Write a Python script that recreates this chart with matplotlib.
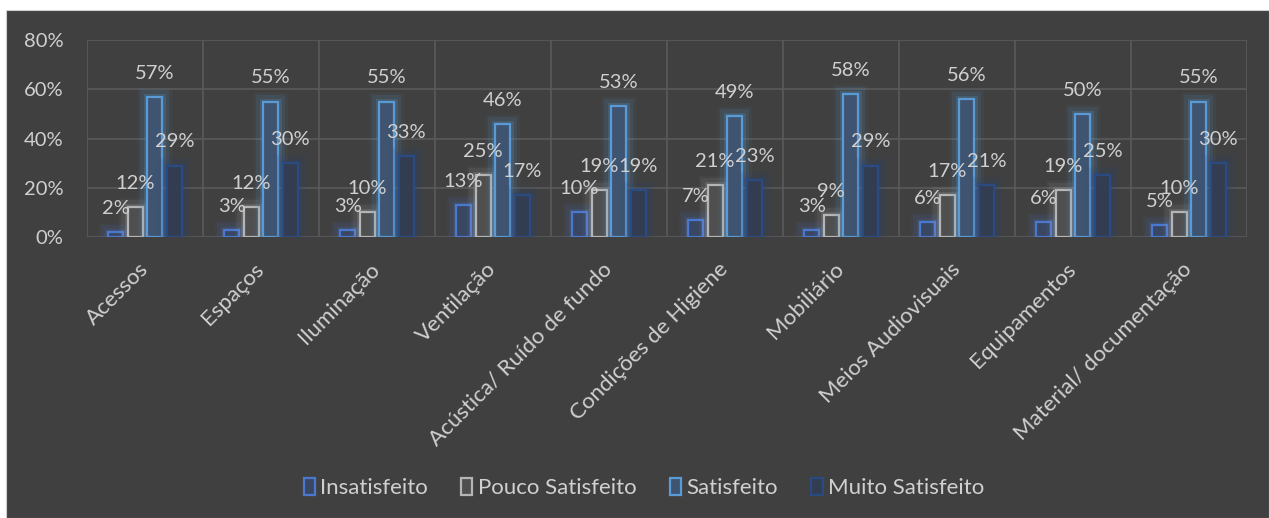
import matplotlib
matplotlib.use('Agg')
import matplotlib.pyplot as plt
import numpy as np
from matplotlib.patches import Rectangle, Patch
import matplotlib.patheffects as pe

categories = ['Acessos', 'Espaços', 'Iluminação', 'Ventilação', 'Acústica/ Ruído de fundo',
              'Condições de Higiene', 'Mobiliário', 'Meios Audiovisuais', 'Equipamentos',
              'Material/ documentação']
insatisfeito = [2, 3, 3, 13, 10, 7, 3, 6, 6, 5]
pouco_satisfeito = [12, 12, 10, 25, 19, 21, 9, 17, 19, 10]
satisfeito = [57, 55, 55, 46, 53, 49, 58, 56, 50, 55]
muito_satisfeito = [29, 30, 33, 17, 19, 23, 29, 21, 25, 30]
series_names = ['Insatisfeito', 'Pouco Satisfeito', 'Satisfeito', 'Muito Satisfeito']
yticks = [0, 20, 40, 60, 80]

edge_colors = ['#4a78d0', '#b5b5b5', '#5B9BD5', '#2a4a82']
face_colors = ['#3a4763', '#4f4f4f', '#3f5470', '#333d52']
glow_colors = ['#4472C4', '#A5A5A5', '#5B9BD5', '#264478']

plt.rcParams['font.family'] = ['Lato', 'DejaVu Sans']
txt_color = '#d0d0d0'
fs = 14.5
fs_x = 16
fs_leg = 16

W, H = 1269, 518
fig = plt.figure(figsize=(W / 100, H / 100), dpi=100)
fig.patch.set_facecolor('white')
fig.patches.append(Rectangle((6 / W, 0), 1 - 6 / W, (H - 10) / H, transform=fig.transFigure,
                             facecolor='#404040', edgecolor='#d0d0d0', lw=0.8, zorder=-10))

ax = fig.add_axes([87 / W, 1 - 237 / H, 1160 / W, 197 / H])
ax.set_facecolor('none')
ax.set_xlim(0, len(categories))
ax.set_ylim(0, 80)

for s in ax.spines.values():
    s.set_visible(False)

grid_c = '#5a5a5a'
for yv in yticks:
    ax.axhline(yv, color=grid_c, lw=1.2, zorder=1)
for xv in range(len(categories) + 1):
    ax.axvline(xv, color=grid_c, lw=1.2, zorder=1)

series = [insatisfeito, pouco_satisfeito, satisfeito, muito_satisfeito]
step = 19.6 / 116
width = 15 / 116
offsets = [(-1.5 + k) * step for k in range(4)]
x = np.arange(len(categories)) + 0.5

for k, vals in enumerate(series):
    bars = ax.bar(x + offsets[k], vals, width=width, facecolor=face_colors[k],
                  edgecolor=edge_colors[k], linewidth=1.6, zorder=3, label=series_names[k])
    for b in bars:
        b.set_path_effects([
            pe.Stroke(linewidth=14, foreground=glow_colors[k], alpha=0.06),
            pe.Stroke(linewidth=10, foreground=glow_colors[k], alpha=0.1),
            pe.Stroke(linewidth=5, foreground=glow_colors[k], alpha=0.2),
            pe.Normal()])
    for xi, v in zip(x + offsets[k], vals):
        ax.annotate(f'{v}%', (xi, v), xytext=(0, 17), textcoords='offset points',
                    ha='center', va='center', color=txt_color, fontsize=fs, zorder=5)

ax.set_yticks(yticks)
ax.set_yticklabels([f'{v}%' for v in yticks], color=txt_color, fontsize=fs)
ax.set_xticks(x)
ax.set_xticklabels(categories, rotation=45, ha='right', va='center', rotation_mode='anchor',
                   color=txt_color, fontsize=fs_x)
ax.tick_params(axis='y', length=0, pad=17)
ax.tick_params(axis='x', length=0, pad=21)

handles = [Patch(facecolor=face_colors[k], edgecolor=edge_colors[k], linewidth=1.6)
           for k in range(4)]
leg = fig.legend(handles, series_names, loc='center', bbox_to_anchor=(644 / W, 1 - 488 / H),
                 ncol=4, frameon=False, handlelength=0.5, handleheight=0.8,
                 handletextpad=0.25, columnspacing=1.5, fontsize=fs_leg)
for t in leg.get_texts():
    t.set_color(txt_color)

fig.savefig('out.png', dpi=100, facecolor=fig.get_facecolor())
